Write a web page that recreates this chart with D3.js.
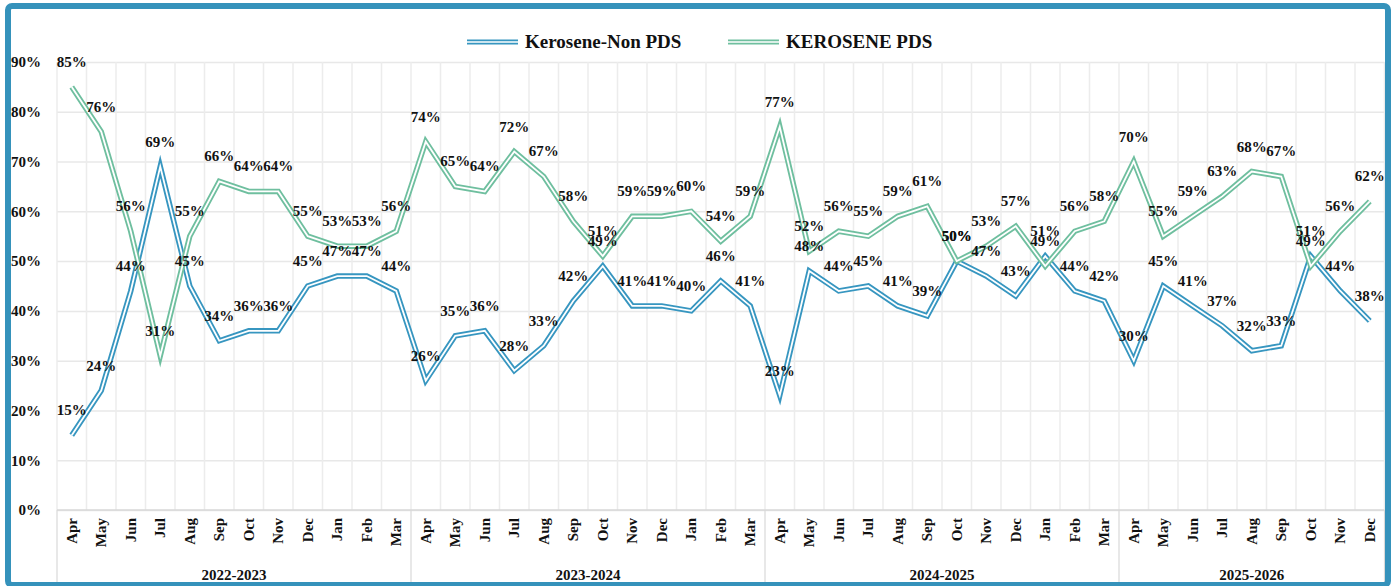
<!DOCTYPE html>
<html lang="en">
<head>
<meta charset="UTF-8">
<title>Kerosene PDS vs Non PDS</title>
<script src="https://d3js.org/d3.v7.min.js"></script>
<style>
    body { margin: 0; background: #fff; }
    text { font-family: "Palatino Linotype", "Book Antiqua", "Liberation Serif", serif; font-weight: bold; fill: #111; }
</style>
</head>
<body>
<script>

    // fiscal years and their months
    var years = ["2022-2023", "2023-2024", "2024-2025", "2025-2026"];
    var fyMonths = ["Apr", "May", "Jun", "Jul", "Aug", "Sep", "Oct", "Nov", "Dec", "Jan", "Feb", "Mar"];
    var monthsPerYear = [12, 12, 12, 9];

    var seriesNames = ["Kerosene-Non PDS", "KEROSENE PDS"];

    // shares in percent
    var nonPds = [15, 24, 44, 69, 45, 34, 36, 36, 45, 47, 47, 44,
                  26, 35, 36, 28, 33, 42, 49, 41, 41, 40, 46, 41,
                  23, 48, 44, 45, 41, 39, 50, 47, 43, 51, 44, 42,
                  30, 45, 41, 37, 32, 33, 51, 44, 38];
    var pds = [85, 76, 56, 31, 55, 66, 64, 64, 55, 53, 53, 56,
               74, 65, 64, 72, 67, 58, 51, 59, 59, 60, 54, 59,
               77, 52, 56, 55, 59, 61, 50, 53, 57, 49, 56, 58,
               70, 55, 59, 63, 68, 67, 49, 56, 62];

    var yTicks = [0, 10, 20, 30, 40, 50, 60, 70, 80, 90];

    var width = 1397;
    var height = 586;
    var plotLeft = 57, plotRight = 1384.5, plotTop = 62, plotBottom = 510;

    var colors = ["#3796c0", "#6fbf9f"];

    // build category list
    var cats = [];
    years.forEach(function (yr, g) {
        for (var m = 0; m < monthsPerYear[g]; m++) {
            cats.push({ year: yr, month: fyMonths[m], group: g });
        }
    });

    var svg = d3.select("body").append("svg")
        .attr("width", width)
        .attr("height", height);

    var x = d3.scaleBand()
        .domain(d3.range(cats.length))
        .range([plotLeft, plotRight])
        .padding(0);

    var y = d3.scaleLinear()
        .domain([0, 90])
        .range([plotBottom, plotTop]);

    var bw = x.bandwidth();
    function cx(i) { return x(i) + bw / 2; }

    // horizontal gridlines + y labels
    var yAxis = svg.append("g")
        .attr("transform", "translate(" + plotLeft + ",0)")
        .call(d3.axisLeft(y).tickValues(yTicks)
            .tickSize(-(plotRight - plotLeft))
            .tickPadding(16)
            .tickFormat(function (d) { return d + "%"; }));
    yAxis.select(".domain").remove();
    yAxis.selectAll(".tick line")
        .attr("stroke", "#e8e8e8")
        .attr("stroke-width", 1.5);
    yAxis.selectAll(".tick text")
        .attr("font-size", "15px")
        .style("font-family", "\"Palatino Linotype\", \"Liberation Serif\", serif")
        .style("font-weight", "bold")
        .attr("fill", "#111");

    // vertical gridlines at category edges
    var edges = d3.range(cats.length + 1).map(function (i) {
        return i < cats.length ? x(i) : plotRight;
    });
    svg.append("g").selectAll("line")
        .data(edges)
        .enter()
        .append("line")
        .attr("x1", function (d) { return d; })
        .attr("x2", function (d) { return d; })
        .attr("y1", plotTop)
        .attr("y2", plotBottom)
        .attr("stroke", "#ececec")
        .attr("stroke-width", 1.5);

    // x axis line
    svg.append("line")
        .attr("x1", plotLeft).attr("x2", plotRight)
        .attr("y1", plotBottom).attr("y2", plotBottom)
        .attr("stroke", "#d9d9d9")
        .attr("stroke-width", 1.5);

    // group separators below axis
    var groupEdges = [0];
    monthsPerYear.forEach(function (n, g) { groupEdges.push(groupEdges[g] + n); });
    svg.append("g").selectAll("line")
        .data(groupEdges)
        .enter()
        .append("line")
        .attr("x1", function (d) { return d < cats.length ? x(d) : plotRight; })
        .attr("x2", function (d) { return d < cats.length ? x(d) : plotRight; })
        .attr("y1", plotBottom)
        .attr("y2", 584)
        .attr("stroke", "#d9d9d9")
        .attr("stroke-width", 1.2);

    // month labels
    svg.append("g").selectAll("text")
        .data(cats)
        .enter()
        .append("text")
        .attr("transform", function (d, i) {
            return "translate(" + (cx(i) + 5) + "," + (plotBottom + 8) + ") rotate(-90)";
        })
        .attr("text-anchor", "end")
        .attr("font-size", "15px")
        .text(function (d) { return d.month; });

    // year labels
    svg.append("g").selectAll("text")
        .data(years)
        .enter()
        .append("text")
        .attr("x", function (d, g) {
            var a = x(groupEdges[g]);
            var b = groupEdges[g + 1] < cats.length ? x(groupEdges[g + 1]) : plotRight;
            return (a + b) / 2;
        })
        .attr("y", 580)
        .attr("text-anchor", "middle")
        .attr("font-size", "15px")
        .text(function (d) { return d; });

    // double lines
    var line = d3.line()
        .x(function (d, i) { return cx(i); })
        .y(function (d) { return y(d); });

    var allSeries = [nonPds, pds];
    allSeries.forEach(function (vals, s) {
        svg.append("path")
            .attr("d", line(vals))
            .attr("fill", "none")
            .attr("stroke", colors[s])
            .attr("stroke-width", 5.5)
            .attr("stroke-linejoin", "miter")
            .attr("stroke-miterlimit", 10);
        svg.append("path")
            .attr("d", line(vals))
            .attr("fill", "none")
            .attr("stroke", "#fff")
            .attr("stroke-width", 1.8)
            .attr("stroke-linejoin", "miter")
            .attr("stroke-miterlimit", 10);
    });

    // data labels
    allSeries.forEach(function (vals, s) {
        svg.append("g").selectAll("text")
            .data(vals)
            .enter()
            .append("text")
            .attr("x", function (d, i) { return cx(i); })
            .attr("y", function (d) { return y(d) - 20; })
            .attr("text-anchor", "middle")
            .attr("font-size", "15px")
            .text(function (d) { return d + "%"; });
    });

    // legend
    var legendX = [467, 728];
    var legend = svg.append("g").selectAll("g")
        .data(seriesNames)
        .enter()
        .append("g")
        .attr("transform", function (d, i) { return "translate(" + legendX[i] + ",42)"; });
    legend.append("line")
        .attr("x1", 0).attr("x2", 51)
        .attr("stroke", function (d, i) { return colors[i]; })
        .attr("stroke-width", 5);
    legend.append("line")
        .attr("x1", 0).attr("x2", 51)
        .attr("stroke", "#fff")
        .attr("stroke-width", 1.6);
    legend.append("text")
        .attr("x", 58)
        .attr("y", 6)
        .attr("font-size", "19px")
        .text(function (d) { return d; });

    // outer border
    svg.append("rect")
        .attr("x", 8).attr("y", 6)
        .attr("width", 1380).attr("height", 579)
        .attr("rx", 4)
        .attr("fill", "none")
        .attr("stroke", "#3592bb")
        .attr("stroke-width", 6);

</script>
</body>
</html>
